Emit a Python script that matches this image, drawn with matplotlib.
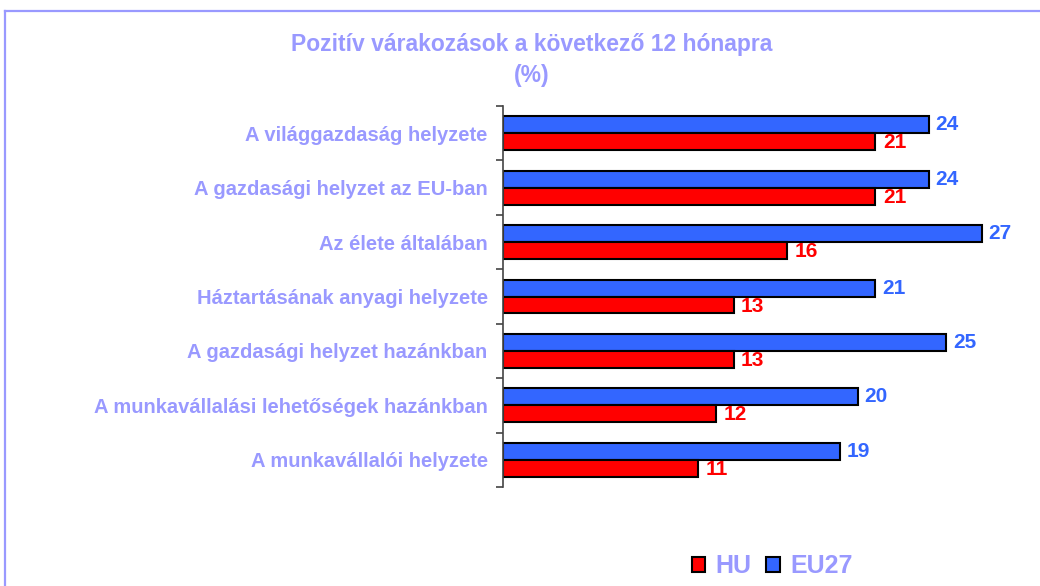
import matplotlib
matplotlib.use("Agg")
import matplotlib.pyplot as plt
from matplotlib.patches import Patch
from matplotlib.lines import Line2D
import numpy as np

plt.rcParams['font.family'] = ['Liberation Sans', 'DejaVu Sans']

categories = [
    "A világgazdaság helyzete",
    "A gazdasági helyzet az EU-ban",
    "Az élete általában",
    "Háztartásának anyagi helyzete",
    "A gazdasági helyzet hazánkban",
    "A munkavállalási lehetőségek hazánkban",
    "A munkavállalói helyzete",
]
hu = [21, 21, 16, 13, 13, 12, 11]
eu27 = [24, 24, 27, 21, 25, 20, 19]

title_col = "#9999FF"
blue = "#3366FF"
red = "#FF0000"

fig = plt.figure(figsize=(10.4, 5.86), dpi=100)
fx, fy = 4.5/1040, 1 - 10.5/586
fig.lines.append(Line2D([fx, fx], [0, fy], transform=fig.transFigure, color=title_col, linewidth=1.6))
fig.lines.append(Line2D([fx, 1], [fy, fy], transform=fig.transFigure, color=title_col, linewidth=1.6))

ax = fig.add_axes([503/1040, 1 - 487/586, 532/1040, (487 - 106)/586])
n = len(categories)
y = np.arange(n)
h = 0.31
ax.barh(y - h/2, eu27, height=h, color=blue, edgecolor="black", linewidth=1.5)
ax.barh(y + h/2, hu, height=h, color=red, edgecolor="black", linewidth=1.5)
for i in range(n):
    ax.text(eu27[i] + 0.38, y[i] - h/2, str(eu27[i]), color=blue, fontsize=15,
            fontweight='bold', va='center', ha='left')
    ax.text(hu[i] + 0.42, y[i] + h/2 + 0.02, str(hu[i]), color=red, fontsize=15,
            fontweight='bold', va='center', ha='left')

ax.set_ylim(n - 0.5, -0.5)
ax.set_xlim(0, 30)
ax.set_yticks(y)
ax.set_yticklabels(categories, color=title_col, fontsize=14.5, fontweight='bold')
ax.set_yticks(np.arange(-0.5, n, 1), minor=True)
ax.tick_params(axis='y', which='major', length=0, pad=11)
ax.tick_params(axis='y', which='minor', length=5, color='#444444', width=1.2)
ax.set_xticks([])
for s in ['top', 'right', 'bottom']:
    ax.spines[s].set_visible(False)
ax.spines['left'].set_color('#444444')
ax.spines['left'].set_linewidth(1.2)

fig.text(532/1040, 1 - 45/586, "Pozitív várakozások a következő 12 hónapra", ha='center', va='center',
         color=title_col, fontsize=16.5, fontweight='bold')
fig.text(532/1040, 1 - 76/586, "(%)", ha='center', va='center',
         color=title_col, fontsize=16.5, fontweight='bold')

handles = [Patch(facecolor=red, edgecolor='black', linewidth=1.5, label='HU'),
           Patch(facecolor=blue, edgecolor='black', linewidth=1.5, label='EU27')]
leg = fig.legend(handles=handles, loc='center', bbox_to_anchor=(772/1040, 1 - 566/586), ncol=2,
                 frameon=False, fontsize=18, handlelength=0.55, handleheight=0.55,
                 handletextpad=0.4, columnspacing=0.6)
for t in leg.get_texts():
    t.set_color(title_col)
    t.set_fontweight('bold')

fig.savefig("out.png", dpi=100)
